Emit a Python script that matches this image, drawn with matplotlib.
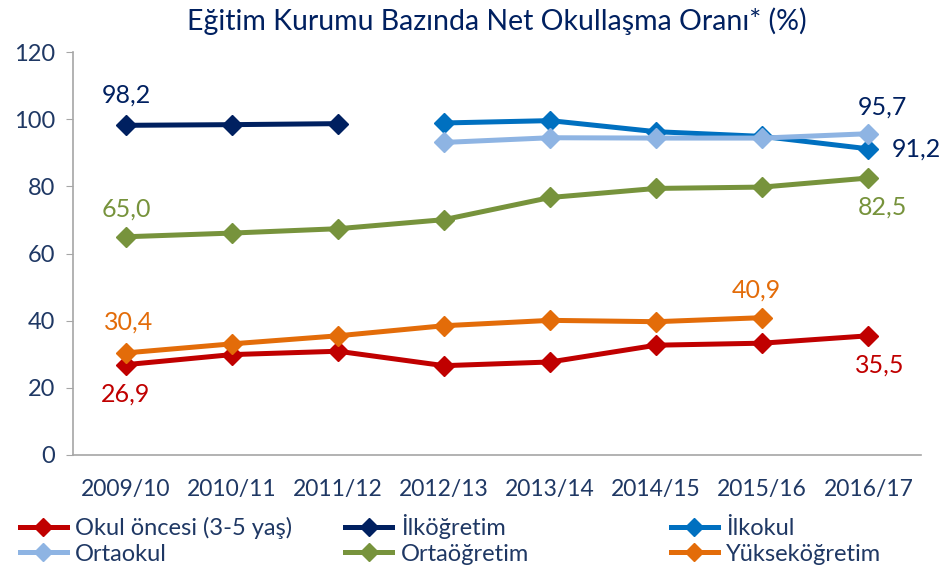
import numpy as np
import matplotlib.pyplot as plt
from matplotlib.lines import Line2D

plt.rcParams['font.family'] = ['Lato', 'DejaVu Sans']

years = ["2009/10", "2010/11", "2011/12", "2012/13", "2013/14", "2014/15", "2015/16", "2016/17"]
nan = np.nan
okul_oncesi = [26.9, 29.9, 30.9, 26.6, 27.7, 32.7, 33.3, 35.5]
ilkogretim = [98.2, 98.4, 98.7, nan, nan, nan, nan, nan]
ilkokul = [nan, nan, nan, 98.9, 99.6, 96.3, 94.9, 91.2]
ortaokul = [nan, nan, nan, 93.1, 94.5, 94.4, 94.4, 95.7]
ortaogretim = [65.0, 66.1, 67.4, 70.1, 76.7, 79.4, 79.8, 82.5]
yuksekogretim = [30.4, 33.1, 35.5, 38.5, 40.1, 39.7, 40.9, nan]

series = [
    ("Okul öncesi (3-5 yaş)", okul_oncesi, "#C00000"),
    ("İlköğretim", ilkogretim, "#002060"),
    ("İlkokul", ilkokul, "#0070C0"),
    ("Ortaokul", ortaokul, "#8EB4E3"),
    ("Ortaöğretim", ortaogretim, "#77933C"),
    ("Yükseköğretim", yuksekogretim, "#E36C09"),
]

text_col = "#1F3864"
navy = "#002060"

fig = plt.figure(figsize=(9.46, 5.73), dpi=100)
ax = fig.add_axes([0.077, 0.206, 0.897, 0.703])

x = np.arange(len(years))
for name, vals, col in series:
    ax.plot(x, vals, color=col, lw=3.6, marker="D", ms=10, label=name,
            solid_joinstyle="miter")

ax.set_xlim(-0.5, 7.5)
ax.set_ylim(0, 120)
ax.set_yticks(range(0, 121, 20))
ax.set_xticks(x)
ax.set_xticklabels(years)
ax.tick_params(axis="y", length=5, color="#A6A6A6", labelsize=17, labelcolor=text_col, pad=8)
ax.tick_params(axis="x", length=0, labelsize=16.5, labelcolor=text_col, pad=17)
for s in ["top", "right"]:
    ax.spines[s].set_visible(False)
for s in ["left", "bottom"]:
    ax.spines[s].set_color("#A6A6A6")
    ax.spines[s].set_linewidth(1.2)

ax.set_title("Eğitim Kurumu Bazında Net Okullaşma Oranı* (%)", fontsize=20.5,
             color=navy, pad=16)

def lab(i, vals, dx, dy, col, ha="center"):
    ax.annotate(f"{vals[i]:.1f}".replace(".", ","), (x[i], vals[i]),
                xytext=(dx, dy), textcoords="offset points", ha=ha, va="center",
                fontsize=18, color=col)

lab(0, ilkogretim, 0, 22, navy)
lab(0, ortaogretim, 0, 20, "#77933C")
lab(0, yuksekogretim, 2, 22, "#E36C09")
lab(0, okul_oncesi, 0, -21, "#C00000")
lab(7, ortaokul, 10, 19, navy)
lab(7, ilkokul, 17, 0, navy, ha="left")
lab(7, ortaogretim, 10, -21, "#77933C")
lab(6, yuksekogretim, -4, 20, "#E36C09")
lab(7, okul_oncesi, 8, -21, "#C00000")

# legend: three evenly spaced columns, like the original
cols = [[0, 3], [1, 4], [2, 5]]
xs = [0.006, 0.35, 0.694]
for cx, idx in zip(xs, cols):
    hs = [Line2D([], [], color=series[i][2], lw=3.6, marker="D", ms=9) for i in idx]
    fig.legend(hs, [series[i][0] for i in idx], loc="lower left",
               bbox_to_anchor=(cx, -0.01), frameon=False, fontsize=17,
               labelcolor=text_col, handlelength=2.0, handletextpad=0.35,
               labelspacing=0.2, borderaxespad=0.2)

fig.savefig("out.png", dpi=100)
